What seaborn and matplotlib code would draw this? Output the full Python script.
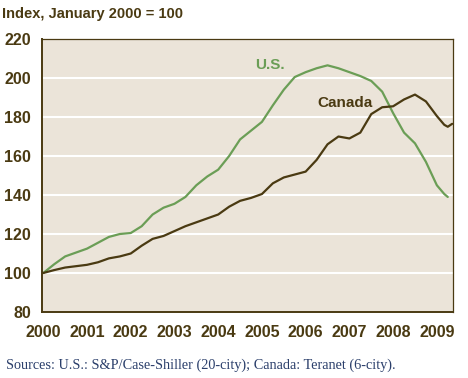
import matplotlib
matplotlib.use("Agg")
import matplotlib.pyplot as plt
import seaborn as sns
import pandas as pd

# Quarterly readings (decimal years), index Jan 2000 = 100
anios_us = [2000.0, 2000.25, 2000.5, 2000.75, 2001.0, 2001.25, 2001.5, 2001.75,
            2002.0, 2002.25, 2002.5, 2002.75, 2003.0, 2003.25, 2003.5, 2003.75,
            2004.0, 2004.25, 2004.5, 2004.75, 2005.0, 2005.25, 2005.5, 2005.75,
            2006.0, 2006.25, 2006.5, 2006.75, 2007.0, 2007.25, 2007.5, 2007.75,
            2008.0, 2008.25, 2008.5, 2008.75, 2009.0, 2009.17, 2009.25]
us = [100, 104.5, 108.5, 110.5, 112.5, 115.5, 118.5, 120, 120.5, 124, 130, 133.5,
      135.5, 139, 145, 149.5, 153, 160, 168.5, 173, 177.5, 186, 194, 200.5,
      203, 205, 206.5, 205, 203, 201, 198.5, 193, 182, 172, 166.5, 157, 145, 140.5, 139]

anios_ca = [2000.0, 2000.25, 2000.5, 2000.75, 2001.0, 2001.25, 2001.5, 2001.75,
            2002.0, 2002.25, 2002.5, 2002.75, 2003.0, 2003.25, 2003.5, 2003.75,
            2004.0, 2004.25, 2004.5, 2004.75, 2005.0, 2005.25, 2005.5, 2005.75,
            2006.0, 2006.25, 2006.5, 2006.75, 2007.0, 2007.25, 2007.5, 2007.75,
            2008.0, 2008.25, 2008.5, 2008.75, 2009.0, 2009.17, 2009.25, 2009.35]
canada = [100, 101.5, 102.8, 103.5, 104.2, 105.5, 107.5, 108.5, 110, 114, 117.5, 119,
          121.5, 124, 126, 128, 130, 134, 137, 138.5, 140.5, 146, 149, 150.5,
          152, 158, 166, 170, 169, 172, 181.5, 185, 185.5, 189, 191.5, 188, 180.5,
          176, 175, 176.5]

years = list(range(2000, 2010))

df = pd.concat([
    pd.DataFrame({"anio": anios_us, "indice": us, "pais": "U.S."}),
    pd.DataFrame({"anio": anios_ca, "indice": canada, "pais": "Canada"}),
])

marron = "#4a3a12"
verde = "#6b9e56"
fondo = "#ebe4d9"

sns.set_style("white")
plt.rcParams["font.family"] = ["Liberation Sans", "DejaVu Sans"]

fig = plt.figure(figsize=(4.68, 3.78), dpi=100)
ax = fig.add_axes([0.0897, 0.1746, 0.8783, 0.7222])
ax.set_facecolor(fondo)

sns.lineplot(data=df, x="anio", y="indice", hue="pais",
             palette={"U.S.": verde, "Canada": marron}, linewidth=1.6,
             legend=False, ax=ax)

ax.set_xlim(1999.97, 2009.37)
ax.set_ylim(80, 220)
ax.set_yticks(range(80, 221, 20))
ax.set_xticks(years)
ax.set_xticklabels([str(y) for y in years])
ax.set_xlabel("")
ax.set_ylabel("")

# lineas de referencia blancas
for v in range(100, 220, 20):
    ax.axhline(v, color="white", linewidth=1.5, zorder=0)

for lado in ["left", "bottom"]:
    ax.spines[lado].set_color(marron)
    ax.spines[lado].set_linewidth(1.4)
for lado in ["top", "right"]:
    ax.spines[lado].set_color(marron)
    ax.spines[lado].set_linewidth(0.9)

ax.tick_params(axis="both", direction="in", length=6, width=1.3, color=marron,
               labelcolor=marron, labelsize=11.5)
ax.tick_params(axis="y", pad=8)
ax.tick_params(axis="x", pad=9)
for lab in ax.get_xticklabels() + ax.get_yticklabels():
    lab.set_fontweight("bold")

ax.text(2005.18, 206.7, "U.S.", color=verde, fontsize=11, fontweight="bold",
        ha="center", va="center")
ax.text(2006.9, 187.2, "Canada", color=marron, fontsize=11, fontweight="bold",
        ha="center", va="center")

fig.text(0.004, 0.963, "Index, January 2000 = 100", color=marron, fontsize=10.5,
         fontweight="bold", ha="left", va="center")
fig.text(0.013, 0.034, "Sources: U.S.: S&P/Case-Shiller (20-city); Canada: Teranet (6-city).",
         color="#2b3f6b", fontsize=10.3, family=["Liberation Serif", "DejaVu Serif"],
         ha="left", va="center")

fig.savefig("out.png", dpi=100, facecolor="white")
